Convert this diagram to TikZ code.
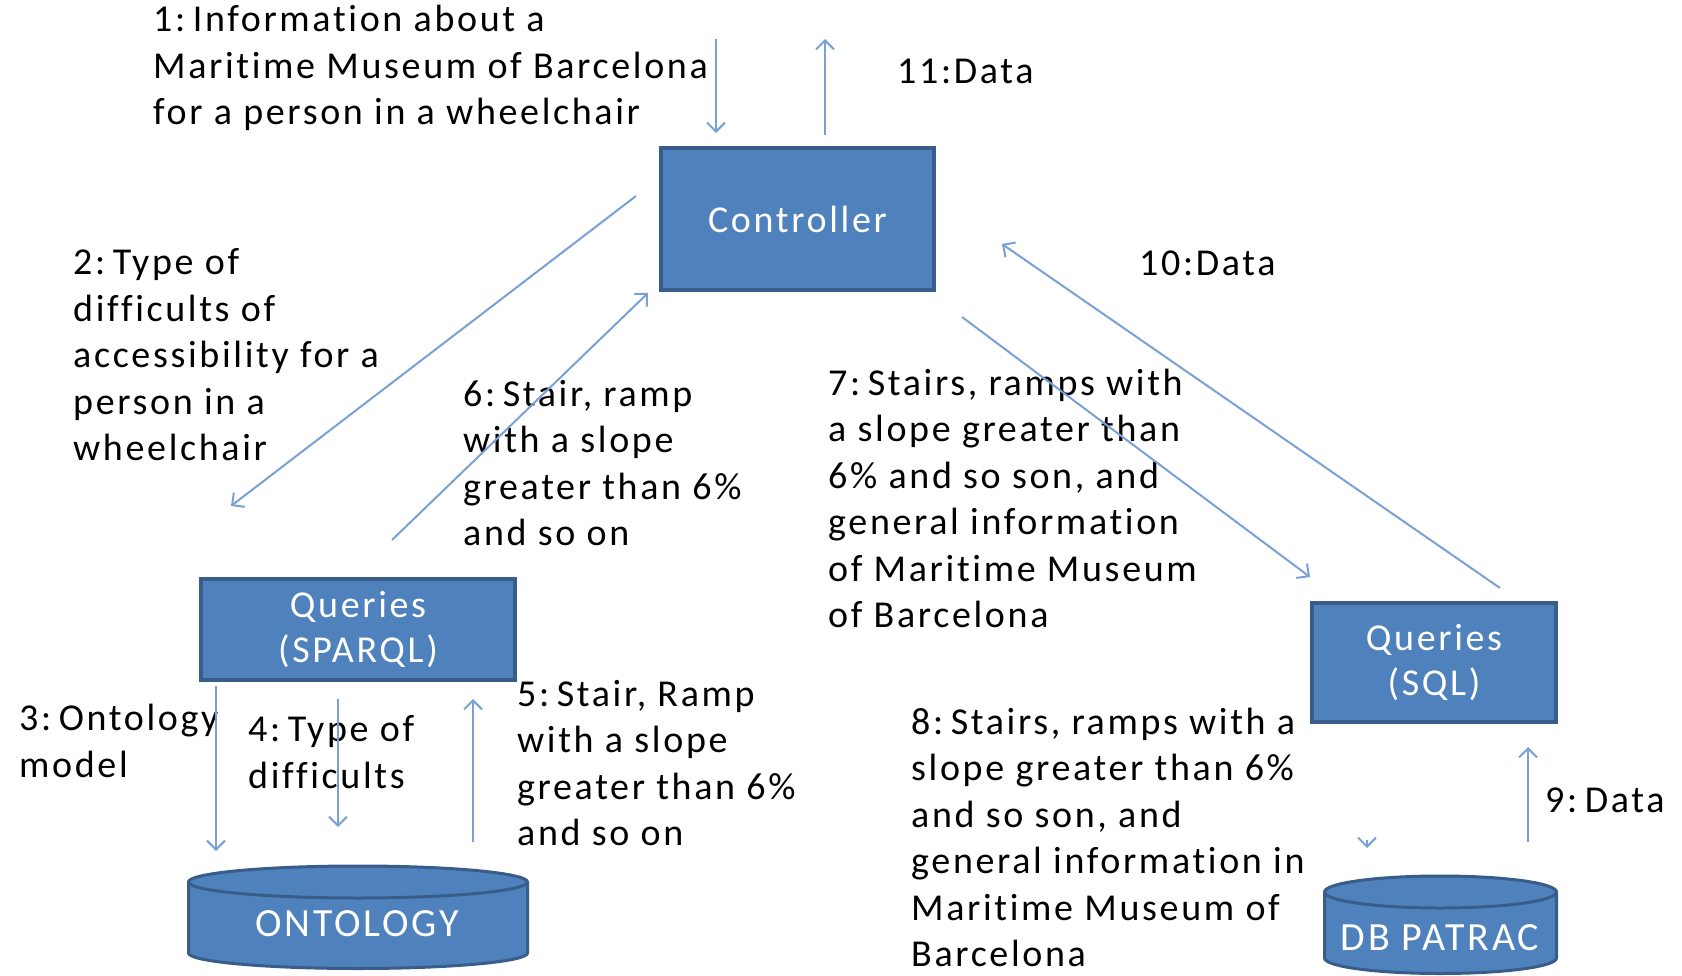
\documentclass[tikz,border=0pt]{standalone}
\usepackage{fontspec}
\setmainfont{Carlito}[LetterSpace=7,Ligatures={NoCommon}]
\usetikzlibrary{arrows.meta}
\definecolor{boxfill}{RGB}{79,129,189}
\definecolor{boxline}{RGB}{56,93,138}
\definecolor{arr}{RGB}{122,160,212}
\newcommand{\numcol}{:\kern7.5pt}
\begin{document}
\begin{tikzpicture}[x=1pt,y=-1pt,
  lbl/.style={font=\fontsize{38}{46.5}\selectfont, align=left, inner sep=0pt, anchor=west, text=black},
  blk/.style={draw=boxline, line width=4pt, fill=boxfill, text=white, font=\fontsize{38}{45}\selectfont, align=center, inner sep=0pt},
  cyl/.style={draw=boxline, line width=3pt, fill=boxfill},
  cyltext/.style={text=white, font=\fontsize{40}{45}\selectfont, inner sep=0pt},
  flow/.style={draw=arr, line width=2pt, -{Straight Barb[length=9pt,width=18pt]}}]
\useasboundingbox (0,0) rectangle (1682,976);
% boxes
\node[blk, minimum width=273pt, minimum height=142pt] (ctrl) at (797.5,219) {Controller};
\node[blk, minimum width=314pt, minimum height=101pt] (sparql) at (358,629.5) {Queries\\(SPARQL)};
\node[blk, minimum width=244pt, minimum height=119pt] (sql) at (1434,662.5) {Queries\\(SQL)};
% cylinders
\draw[cyl] (188.5,882) -- (188.5,953) arc[start angle=180,end angle=360,x radius=169.5pt,y radius=15.5pt] -- (527.5,882) arc[start angle=0,end angle=180,x radius=169.5pt,y radius=16pt] -- cycle;
\draw[cyl] (527.5,882) arc[start angle=0,end angle=-180,x radius=169.5pt,y radius=16pt];
\node[cyltext] (onto) at (357,924) {ONTOLOGY};
\draw[cyl] (1324.5,892) -- (1324.5,958) arc[start angle=180,end angle=360,x radius=116pt,y radius=15.5pt] -- (1556.5,892) arc[start angle=0,end angle=180,x radius=116pt,y radius=16pt] -- cycle;
\draw[cyl] (1556.5,892) arc[start angle=0,end angle=-180,x radius=116pt,y radius=16pt];
\node[cyltext] (db) at (1440,938) {DB PATRAC};
% labels
\node[lbl] (l1) at (153,68) {1\numcol Information about a\\Maritime Museum of Barcelona\\for a person in a wheelchair};
\node[lbl] (l11) at (897,71) {11:Data};
\node[lbl] (l2) at (73,355) {2\numcol Type of\\difficults of\\accessibility for a\\person in a\\wheelchair};
\node[lbl] (l10) at (1139,263) {10:Data};
\node[lbl] (l6) at (463,463) {6\numcol Stair, ramp\\with a slope\\greater than 6\%\\and so on};
\node[lbl] (l7) at (828,498.5) {7\numcol Stairs, ramps with\\a slope greater than\\6\% and so son, and\\general information\\of Maritime Museum\\of Barcelona};
\node[lbl] (l3) at (19,741) {3\numcol Ontology\\model};
\node[lbl] (l4) at (248,752) {4\numcol Type of\\difficults};
\node[lbl] (l5) at (517,763) {5\numcol Stair, Ramp\\with a slope\\greater than 6\%\\and so on};
\node[lbl] (l8) at (911,837.5) {8\numcol Stairs, ramps with a\\slope greater than 6\%\\and so son, and\\general information in\\Maritime Museum of\\Barcelona};
\node[lbl] (l9) at (1545,800) {9\numcol Data};
% connector ends
\coordinate (a1s) at (716,39);   \coordinate (a1e) at (716,133);
\coordinate (a11s) at (825,135); \coordinate (a11e) at (825,39);
\coordinate (a2s) at (636,196);  \coordinate (a2e) at (231,506);
\coordinate (a6s) at (392,540);  \coordinate (a6e) at (648,293);
\coordinate (a7s) at (962,317);  \coordinate (a7e) at (1310,577);
\coordinate (a10s) at (1500,588); \coordinate (a10e) at (1002,244);
\coordinate (a3s) at (216,686);  \coordinate (a3e) at (216,851);
\coordinate (a4s) at (338,699);  \coordinate (a4e) at (338,827);
\coordinate (a5s) at (473,842);  \coordinate (a5e) at (473,699);
\coordinate (a8s) at (1367,840); \coordinate (a8e) at (1367,848);
\coordinate (a9s) at (1528,842); \coordinate (a9e) at (1528,747);
\draw[flow] (a1s) -- (a1e);
\draw[flow] (a11s) -- (a11e);
\draw[flow] (a2s) -- (a2e);
\draw[flow] (a6s) -- (a6e);
\draw[flow] (a7s) -- (a7e);
\draw[flow] (a10s) -- (a10e);
\draw[flow] (a3s) -- (a3e);
\draw[flow] (a4s) -- (a4e);
\draw[flow] (a5s) -- (a5e);
\draw[flow] (a8s) -- (a8e);
\draw[flow] (a9s) -- (a9e);
\end{tikzpicture}
\end{document}
